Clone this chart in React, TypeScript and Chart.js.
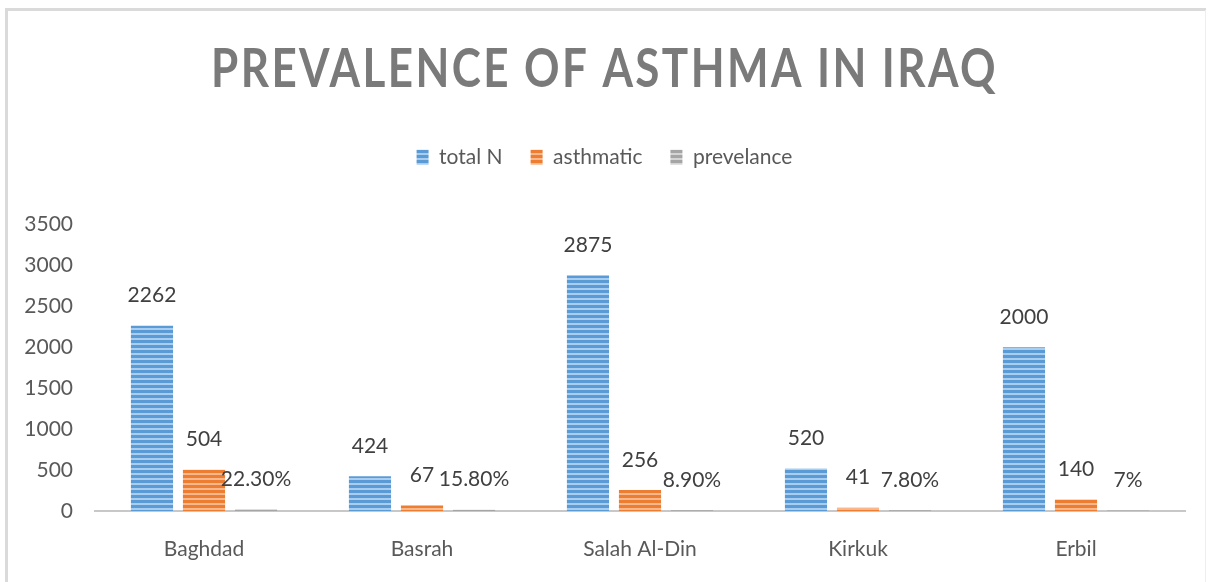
import { useEffect, useRef } from 'react';
import { Chart, registerables } from 'chart.js';

Chart.register(...registerables);

const chartTitle = 'PREVALENCE OF ASTHMA IN IRAQ';
const categories = ['Baghdad', 'Basrah', 'Salah Al-Din', 'Kirkuk', 'Erbil'];
const seriesNames = ['total N', 'asthmatic', 'prevelance'];
const totalN = [2262, 424, 2875, 520, 2000];
const asthmatic = [504, 67, 256, 41, 140];
const prevalence = [22.3, 15.8, 8.9, 7.8, 7];
const prevalenceLabels = ['22.30%', '15.80%', '8.90%', '7.80%', '7%'];
const yMin = 0;
const yMax = 3500;
const yStep = 500;

const FONT = 'Lato, "Open Sans", sans-serif';

function stripe(base: string, light: string) {
  const c = document.createElement('canvas');
  c.width = 8;
  c.height = 5;
  const x = c.getContext('2d')!;
  x.fillStyle = base;
  x.fillRect(0, 0, 8, 5);
  x.fillStyle = light;
  x.fillRect(0, 3, 8, 2);
  return x.createPattern(c, 'repeat')!;
}

const framePlugin = {
  id: 'frame',
  beforeDraw(chart: any) {
    const ctx = chart.ctx;
    ctx.save();
    ctx.strokeStyle = '#DADADA';
    ctx.lineWidth = 3;
    ctx.beginPath();
    ctx.moveTo(6.5, 582);
    ctx.lineTo(6.5, 9.5);
    ctx.lineTo(1206, 9.5);
    ctx.stroke();
    ctx.strokeStyle = '#EEEEEE';
    ctx.lineWidth = 1;
    ctx.beginPath();
    ctx.moveTo(1205.5, 10);
    ctx.lineTo(1205.5, 582);
    ctx.stroke();
    ctx.restore();
    const tb = chart.titleBlock;
    if (tb && !tb.__wrapped) {
      const orig = tb.draw.bind(tb);
      tb.draw = () => {
        const c = chart.ctx;
        c.save();
        const cy = (tb.top + tb.bottom) / 2;
        c.translate(0, cy);
        c.scale(1, 1.2);
        c.translate(0, -cy);
        (c as any).letterSpacing = '2.4px';
        orig();
        c.restore();
      };
      tb.__wrapped = true;
    }
  },
};

const valueLabelPlugin = {
  id: 'valueLabels',
  afterDatasetsDraw(chart: any) {
    const ctx = chart.ctx;
    ctx.save();
    ctx.font = `21px ${FONT}`;
    ctx.fillStyle = '#404040';
    ctx.textAlign = 'center';
    ctx.textBaseline = 'middle';
    chart.data.datasets.forEach((ds: any, di: number) => {
      const meta = chart.getDatasetMeta(di);
      meta.data.forEach((el: any, i: number) => {
        const txt = di === 2 ? prevalenceLabels[i] : String(ds.data[i]);
        ctx.fillText(txt, el.x, el.y - 30);
      });
    });
    ctx.restore();
  },
};

export default function App() {
  const ref = useRef<HTMLCanvasElement>(null);
  useEffect(() => {
    if (!ref.current) return;
    const blue = stripe('#5B9BD5', '#A9CDEE');
    const orange = stripe('#ED7D31', '#F7B88E');
    const grey = stripe('#A5A5A5', '#D4D4D4');
    const chart = new Chart(ref.current, {
      type: 'bar',
      data: {
        labels: categories,
        datasets: [
          { label: seriesNames[0], data: totalN, backgroundColor: blue, borderWidth: 0 },
          { label: seriesNames[1], data: asthmatic, backgroundColor: orange, borderWidth: 0 },
          { label: seriesNames[2], data: prevalence, backgroundColor: grey, borderWidth: 0 },
        ],
      },
      options: {
        animation: false,
        responsive: true,
        maintainAspectRatio: false,
        datasets: { bar: { categoryPercentage: 0.716, barPercentage: 0.81 } },
        layout: { padding: { left: 24, right: 24, top: 0, bottom: 0 } },
        plugins: {
          tooltip: { enabled: false },
          title: {
            display: true,
            text: chartTitle,
            color: '#7A7A7A',
            font: { family: FONT, size: 44, weight: 'bold' },
            padding: { top: 42, bottom: 24 },
          },
          legend: {
            display: true,
            position: 'top',
            labels: {
              boxWidth: 12,
              boxHeight: 15,
              padding: 28,
              color: '#595959',
              font: { family: FONT, size: 21 },
            },
          },
        },
        scales: {
          x: {
            grid: { display: false, drawTicks: false },
            border: { display: true, color: '#C8C8C8', width: 2 },
            ticks: { color: '#595959', font: { family: FONT, size: 21 }, padding: 26 },
            afterFit(s: any) { s.height = 71; },
          },
          y: {
            min: yMin,
            max: yMax,
            grid: { display: false, drawTicks: false },
            border: { display: false },
            ticks: {
              stepSize: yStep,
              color: '#595959',
              font: { family: FONT, size: 21 },
              padding: 22,
              callback: (v: any) => String(v),
            },
            afterFit(s: any) { s.width = 71; },
          },
          gap: {
            type: 'category',
            position: 'top',
            display: true,
            grid: { display: false, drawTicks: false },
            border: { display: false },
            ticks: { display: false },
            afterFit(s: any) { s.height = 46.5; },
          },
        },
      },
      plugins: [framePlugin, valueLabelPlugin],
    } as any);
    return () => chart.destroy();
  }, []);
  return (
    <div style={{ position: 'fixed', left: 0, top: 0, width: 1209, height: 582, background: '#fff' }}>
      <canvas ref={ref} />
    </div>
  );
}
